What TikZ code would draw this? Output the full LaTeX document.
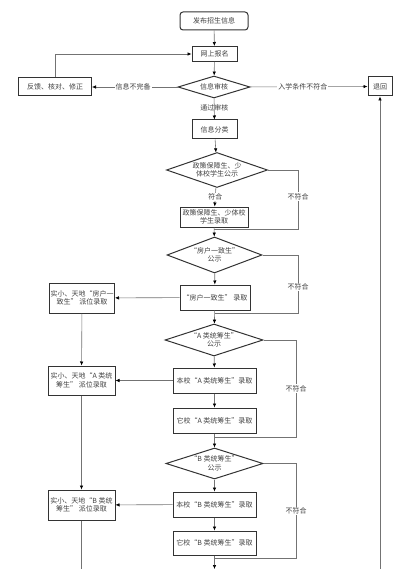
\documentclass[tikz,border=0pt]{standalone}
\usepackage{fontspec}
\newfontfamily\cjk{Noto Sans CJK SC}
\usetikzlibrary{arrows.meta,shapes.geometric,calc}

\begin{document}
\begin{tikzpicture}[
  x=1pt,y=-1pt,
  >={Latex[length=4pt,width=3.5pt,color=black]},
  font=\cjk\fontsize{7}{8.5}\selectfont,
  stepnode/.style={draw=black!80,line width=1pt,align=center,inner sep=0pt,text=black!75},
  startnode/.style={stepnode,rounded corners=3pt},
  checknode/.style={diamond,draw=black!80,line width=1pt,align=center,inner sep=0pt,text=black!75},
  flow/.style={draw=black!55,line width=0.6pt},
  lbl/.style={fill=white,inner sep=1pt,text=black!75}
]
\useasboundingbox (0,0) rectangle (419,569);

\node[startnode,minimum width=68pt,minimum height=18pt] (publish) at (214,21) {发布招生信息};
\node[stepnode,minimum width=45pt,minimum height=15pt] (signup) at (214.5,54) {网上报名};
\node[checknode,minimum width=72pt,minimum height=22pt,shape aspect=3.3] (check) at (214,87) {信息审核};
\node[stepnode,minimum width=73pt,minimum height=18pt] (feedback) at (55,87) {反馈、核对、修正};
\node[stepnode,minimum width=24pt,minimum height=19pt] (back) at (380,86.5) {退回};
\node[stepnode,minimum width=45pt,minimum height=19pt] (classify) at (214.5,129.5) {信息分类};

\node[checknode,minimum width=101pt,minimum height=35pt,shape aspect=2.9] (policy) at (217,170)
  {政策保障生、少\\体校学生公示};
\node[stepnode,minimum width=68pt,minimum height=20pt] (policyOk) at (214,217)
  {政策保障生、少体校\\学生录取};

\node[checknode,minimum width=95pt,minimum height=36pt,shape aspect=2.6] (house) at (214.5,255)
  {“房户一致生”\\公示};
\node[stepnode,minimum width=70pt,minimum height=25pt] (houseOk) at (215,297.5) {“房户一致生” 录取};
\node[stepnode,minimum width=65pt,minimum height=30pt] (houseDist) at (82,298)
  {实小、天地“房户一\\致生” 派位录取};

\node[checknode,minimum width=98pt,minimum height=32pt,shape aspect=3.0] (aCheck) at (214,340)
  {“A 类统筹生”\\公示};
\node[stepnode,minimum width=83pt,minimum height=25pt] (aLocal) at (214.5,380.5) {本校“A 类统筹生”录取};
\node[stepnode,minimum width=67pt,minimum height=29pt] (aDist) at (81.5,380.5)
  {实小、天地“A 类统\\筹生” 派位录取};
\node[stepnode,minimum width=83pt,minimum height=25pt] (aOther) at (214.5,420.5) {它校“A 类统筹生”录取};

\node[checknode,minimum width=97pt,minimum height=31pt,shape aspect=3.1] (bCheck) at (214.5,463.5)
  {“B 类统筹生”\\公示};
\node[stepnode,minimum width=83pt,minimum height=25pt] (bLocal) at (214.5,504.5) {本校“B 类统筹生”录取};
\node[stepnode,minimum width=67pt,minimum height=30pt] (bDist) at (81.5,505)
  {实小、天地“B 类统\\筹生” 派位录取};
\node[stepnode,minimum width=83pt,minimum height=24pt] (bOther) at (214.5,543) {它校“B 类统筹生”录取};

% top part
\draw[flow,->] (publish) -- (signup);
\draw[flow,->] (signup) -- (check);
\draw[flow,->] (check) -- node[lbl,pos=.52] {信息不完备} (feedback);
\draw[flow,->] (check) -- node[lbl,pos=.45] {入学条件不符合} (back);
\draw[flow,->] (feedback.north) |- (signup.west);
\draw[flow,->] (check) -- node[text=black!75,pos=.45] {通过审核} (classify);
\draw[flow,->] (classify) -- (policy);

% policy students
\draw[flow,->] (policy) -- node[lbl] {符合} (policyOk);
\coordinate (policyJoin) at (policyOk.south |- 0,229);
\draw[flow] (policy.east) -- (298,0 |- policy.east)
  -- node[lbl,pos=.45] {不符合} (298,229) -- (policyJoin);
\draw[flow,->] (policyOk) -- (house);

% house students
\draw[flow,->] (house) -- (houseOk);
\coordinate (houseJoin) at (houseOk.south |- 0,313);
\draw[flow] (house.east) -- (298,0 |- house.east)
  -- node[lbl,pos=.55] {不符合} (298,313) -- (houseJoin);
\draw[flow,->] (houseOk) -- (houseDist);
\draw[flow,->] (houseOk) -- (aCheck);
\draw[flow,->] (houseDist) -- (aDist);

% A students
\draw[flow,->] (aCheck) -- (aLocal);
\draw[flow,->] (aLocal) -- (aDist);
\draw[flow,->] (aLocal) -- (aOther);
\coordinate (aJoin) at (aOther.south |- 0,437);
\draw[flow] (aCheck.east) -- (296,0 |- aCheck.east)
  -- node[lbl,pos=.5] {不符合} (296,437) -- (aJoin);
\draw[flow,->] (aOther) -- (bCheck);
\draw[flow,->] (aDist) -- (bDist);

% B students
\draw[flow,->] (bCheck) -- (bLocal);
\draw[flow,->] (bLocal) -- (bDist);
\draw[flow,->] (bLocal) -- (bOther);
\coordinate (bJoin) at (bOther.south |- 0,558);
\draw[flow] (bCheck.east) -- (296,0 |- bCheck.east)
  -- node[lbl,pos=.5] {不符合} (296,558) -- (bJoin);

% loose ends at the page bottom
\coordinate (mainEnd) at (bOther.south |- 0,569);
\coordinate (distEnd) at (bDist.south |- 0,569);
\coordinate (backStart) at (back.south |- 0,569);
\draw[flow,->] (bOther) -- (mainEnd);
\draw[flow] (bDist) -- (distEnd);
\draw[flow,->] (backStart) -- (back);

\end{tikzpicture}
\end{document}
